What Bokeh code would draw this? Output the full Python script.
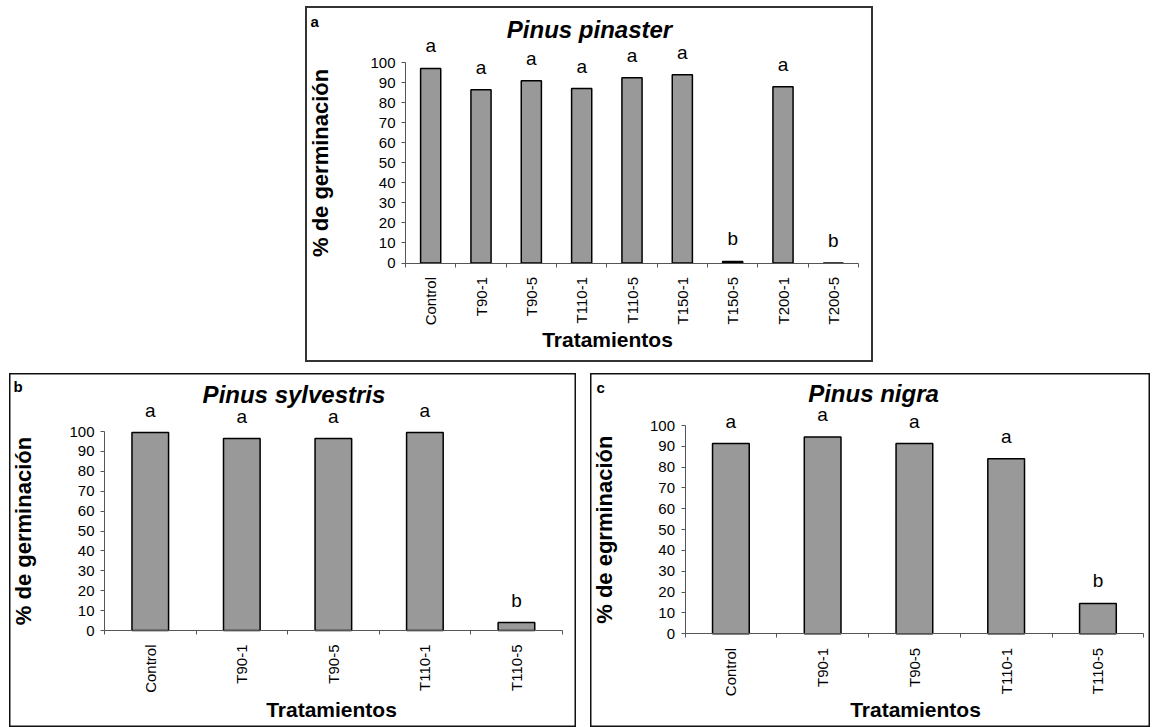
import math
from bokeh.plotting import figure
from bokeh.models import (Range1d, LinearAxis, FixedTicker, Label,
                          ColumnDataSource, Spacer)
from bokeh.layouts import column, row
from bokeh.embed import file_html
from bokeh.resources import INLINE
from bokeh.core.properties import value

# ---------------- data ----------------
cats_a = ["Control", "T90-1", "T90-5", "T110-1", "T110-5", "T150-1", "T150-5", "T200-1", "T200-5"]
vals_a = [97.2, 86.5, 91.0, 87.2, 92.5, 94.0, 0.8, 88.0, 0.0]
letters_a = ["a", "a", "a", "a", "a", "a", "b", "a", "b"]

cats_b = ["Control", "T90-1", "T90-5", "T110-1", "T110-5"]
vals_b = [99.5, 96.5, 96.5, 99.5, 4.0]
letters_b = ["a", "a", "a", "a", "b"]

cats_c = ["Control", "T90-1", "T90-5", "T110-1", "T110-5"]
vals_c = [91.3, 94.5, 91.3, 84.0, 14.6]
letters_c = ["a", "a", "a", "a", "b"]

y_ticks = [0, 10, 20, 30, 40, 50, 60, 70, 80, 90, 100]

FONT = "Liberation Sans"
AXIS_COL = "#555555"
BASE_FIX = 0.39   # baseline correction (fraction of font size)

TITLE_FS = 24
TAG_FS = 15
YLAB_FS = 22
XLAB_FS = 21
LET_FS = 19


def make_panel(cats, vals, letters, title, ylabel, tag, W, H,
               left, right, y0, y100,
               title_x, title_yb, tag_x, tag_yb, ylab_x, xlab_x, xlab_yb, border):
    """left/right/y0/y100: pixel layout of the plot area inside the panel box."""
    n = len(cats)
    pxu = (right - left) / n
    pyu = (y0 - y100) / 100.0
    p = figure(width=W, height=H,
               x_range=Range1d(-left / pxu, n + (W - right) / pxu),
               y_range=Range1d(-(H - y0) / pyu, y0 / pyu),
               output_backend="svg", toolbar_location=None,
               x_axis_location=None, y_axis_location=None,
               min_border=0, min_border_left=0, min_border_right=0,
               min_border_top=0, min_border_bottom=0,
               styles={"box-shadow": "inset 0 0 0 %s" % border,
                       "background-color": "white"})
    p.toolbar_location = None
    p.outline_line_color = None
    p.border_fill_color = None
    p.background_fill_color = None
    p.grid.visible = False

    centers = [i + 0.5 for i in range(n)]
    bounds = [i for i in range(n + 1)]
    xaxis = LinearAxis(fixed_location=0, bounds=(0, n),
                       ticker=FixedTicker(ticks=centers, minor_ticks=bounds),
                       major_label_overrides={c: lab for c, lab in zip(centers, cats)},
                       major_label_orientation=math.pi / 2,
                       major_label_standoff=10,
                       major_label_text_font=FONT,
                       major_label_text_font_size="15px",
                       major_label_text_color="black",
                       major_tick_line_color=None,
                       major_tick_out=4, major_tick_in=0,
                       minor_tick_line_color=AXIS_COL,
                       minor_tick_out=4, minor_tick_in=0,
                       axis_line_color=AXIS_COL)
    yaxis = LinearAxis(fixed_location=0, bounds=(0, 100),
                       ticker=FixedTicker(ticks=y_ticks),
                       major_label_standoff=6,
                       major_label_text_font=FONT,
                       major_label_text_font_size="15px",
                       major_label_text_color="black",
                       major_tick_line_color=AXIS_COL,
                       major_tick_out=4, major_tick_in=0,
                       minor_tick_line_color=None,
                       axis_line_color=AXIS_COL)
    p.add_layout(yaxis, "left")
    p.add_layout(xaxis, "below")

    src = ColumnDataSource(dict(x=centers, cat=cats, val=vals, let=letters))
    p.vbar(x="x", top="val", bottom=0, width=0.4, source=src,
           fill_color="#999999", line_color="black", line_width=1.5)
    p.text(x="x", y="val", text="let", source=src,
           y_offset=-(15 + BASE_FIX * LET_FS),
           text_align="center", text_baseline="alphabetic",
           text_font=value(FONT), text_font_size="%dpx" % LET_FS, text_color="black")

    def label(x, yb, text, fs, style, align="center"):
        p.add_layout(Label(x=x, y=H - yb + BASE_FIX * fs, x_units="screen", y_units="screen",
                           text=text, text_align=align, text_baseline="alphabetic",
                           text_font=FONT, text_font_style=style,
                           text_font_size="%dpx" % fs, text_color="black"))

    label(title_x, title_yb, title, TITLE_FS, "bold italic")
    label(tag_x, tag_yb, tag, TAG_FS, "bold", align="left")
    label(xlab_x, xlab_yb, "Tratamientos", XLAB_FS, "bold")
    p.add_layout(Label(x=ylab_x, y=50, x_units="screen", y_units="data",
                       text=ylabel, angle=math.pi / 2,
                       text_align="center", text_baseline="middle",
                       text_font=FONT, text_font_style="bold",
                       text_font_size="%dpx" % YLAB_FS, text_color="black"))
    return p


pa = make_panel(cats_a, vals_a, letters_a, "Pinus pinaster", "% de germinación", "a",
                568, 356, 100, 553, 256.5, 56.3,
                284, 32, 5, 21, 15, 302, 341, "2px #333333")
pb = make_panel(cats_b, vals_b, letters_b, "Pinus sylvestris", "% de germinación", "b",
                567, 354, 95, 552.7, 257, 58,
                284.5, 30, 4, 19, 14, 322, 344, "1.5px #111111")
pc = make_panel(cats_c, vals_c, letters_c, "Pinus nigra", "% de egrminación", "c",
                560, 354, 94.5, 553.3, 260.3, 52,
                283, 29, 6, 20, 14, 325, 344, "1.5px #111111")

top = row(Spacer(width=305, height=356), pa)
bottom = row(Spacer(width=9, height=354), pb, Spacer(width=14, height=354), pc)
lay = column(Spacer(width=10, height=6), top, Spacer(width=10, height=11), bottom)

open("out.html", "w").write(file_html(lay, INLINE))
